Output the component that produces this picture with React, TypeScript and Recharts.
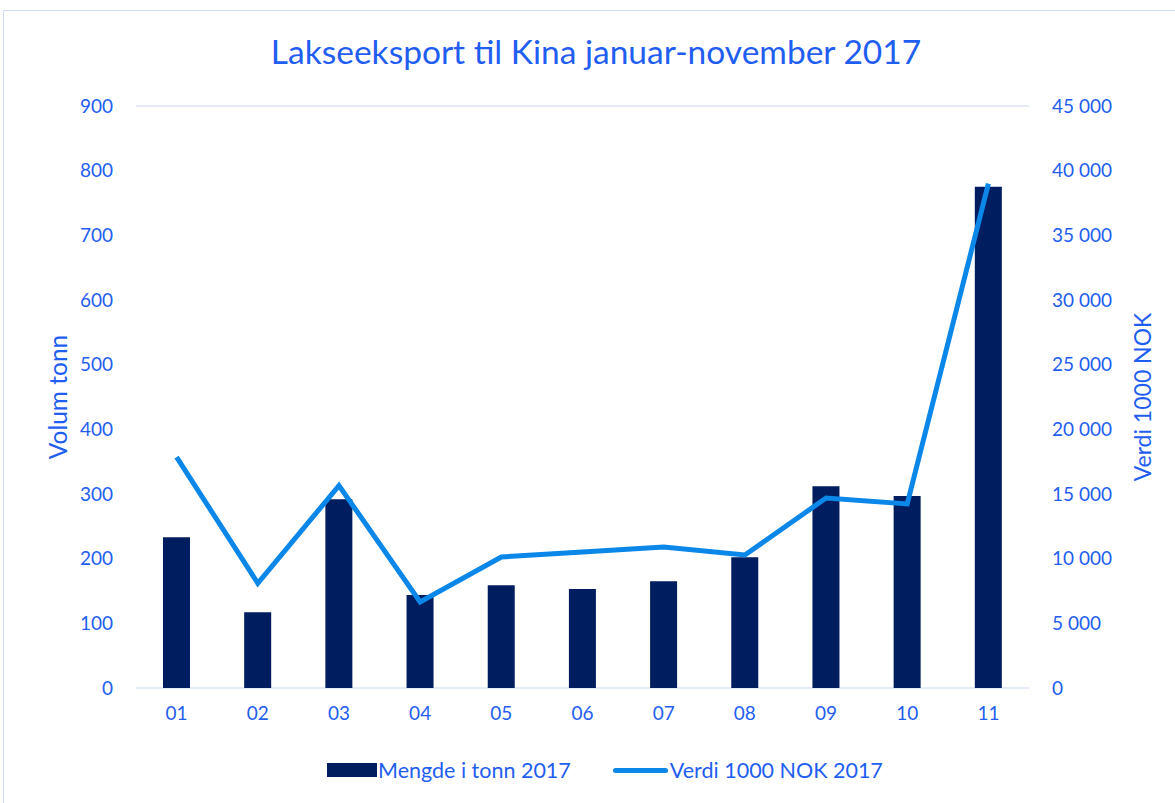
import React from "react";
import { ComposedChart, Bar, Line, XAxis, YAxis, CartesianGrid } from "recharts";

const months = ["01", "02", "03", "04", "05", "06", "07", "08", "09", "10", "11"];
const volumeTonn = [233, 117, 292, 144, 159, 153, 165, 202, 312, 297, 775];
const valueNok = [17850, 8100, 15650, 6650, 10130, 10520, 10900, 10280, 14690, 14230, 39000];
const leftTicks = [0, 100, 200, 300, 400, 500, 600, 700, 800, 900];
const rightTicks = [0, 5000, 10000, 15000, 20000, 25000, 30000, 35000, 40000, 45000];

const title = "Lakseeksport til Kina januar-november 2017";
const barName = "Mengde i tonn 2017";
const lineName = "Verdi 1000 NOK 2017";
const leftLabel = "Volum tonn";
const rightLabel = "Verdi 1000 NOK";

const data = months.map((m, i) => ({ month: m, volume: volumeTonn[i], value: valueNok[i] }));

const TEXT = "#1f5ef0";
const BAR = "#001d5f";
const LINE = "#0a87e8";
const GRID = "#c9d8f7";
const FONT = "Lato, 'Open Sans', sans-serif";

const fmt = (v: number) => {
  if (v === 0) return "0";
  const s = String(v);
  return s.slice(0, s.length - 3) + " " + s.slice(s.length - 3);
};

export default function App() {
  return (
    <div style={{ position: "absolute", left: 0, top: 0, width: 1175, height: 803, background: "#fff", fontFamily: FONT, overflow: "hidden" }}>
      <div style={{ position: "absolute", left: 3, top: 10, width: 1180, height: 800, border: "1px solid #cfdcf7", boxSizing: "border-box" }} />
      <div style={{ position: "absolute", left: 0, width: 1192, top: 29, textAlign: "center", color: TEXT, fontSize: 33.5, lineHeight: "44px" }}>
        {title}
      </div>
      <div style={{ position: "absolute", left: 57, top: 397, transform: "translate(-50%, -50%) rotate(-90deg)", color: TEXT, fontSize: 24.5, whiteSpace: "nowrap" }}>
        {leftLabel}
      </div>
      <div style={{ position: "absolute", left: 1142, top: 397, transform: "translate(-50%, -50%) rotate(-90deg)", color: TEXT, fontSize: 23, whiteSpace: "nowrap" }}>
        {rightLabel}
      </div>
      <div style={{ position: "absolute", left: 0, top: 0 }}>
        <ComposedChart width={1175} height={803} data={data} margin={{ top: 106, right: 66, bottom: 85, left: 56 }}>
          <CartesianGrid vertical={false} stroke={GRID} strokeWidth={1.2} />
          <XAxis
            dataKey="month"
            axisLine={false}
            tickLine={false}
            tickSize={0}
            tickMargin={19}
            height={30}
            tick={{ fill: TEXT, fontSize: 19, fontFamily: FONT }}
          />
          <YAxis
            yAxisId="left"
            orientation="left"
            width={80}
            domain={[0, 900]}
            ticks={leftTicks}
            axisLine={false}
            tickLine={false}
            tickSize={0}
            tickMargin={23}
            tick={{ fill: TEXT, fontSize: 19, fontFamily: FONT }}
          />
          <YAxis
            yAxisId="right"
            orientation="right"
            width={80}
            domain={[0, 45000]}
            ticks={rightTicks}
            tickFormatter={fmt}
            axisLine={false}
            tickLine={false}
            tickSize={0}
            tickMargin={23}
            tick={{ fill: TEXT, fontSize: 19, fontFamily: FONT, textAnchor: "start" }}
          />
          <Bar yAxisId="left" dataKey="volume" name={barName} fill={BAR} barSize={27} isAnimationActive={false} />
          <Line yAxisId="right" dataKey="value" name={lineName} stroke={LINE} strokeWidth={5} dot={false} activeDot={false} type="linear" isAnimationActive={false} />
        </ComposedChart>
      </div>
      <div style={{ position: "absolute", left: 327, top: 755, height: 30, display: "flex", alignItems: "center", color: TEXT, fontSize: 21.5, whiteSpace: "nowrap" }}>
        <span style={{ display: "inline-block", width: 50, height: 14, background: BAR, marginRight: 1 }} />
        <span>{barName}</span>
        <span style={{ display: "inline-block", width: 55, height: 5, background: LINE, borderRadius: 3, marginLeft: 42, marginRight: 2 }} />
        <span>{lineName}</span>
      </div>
    </div>
  );
}
